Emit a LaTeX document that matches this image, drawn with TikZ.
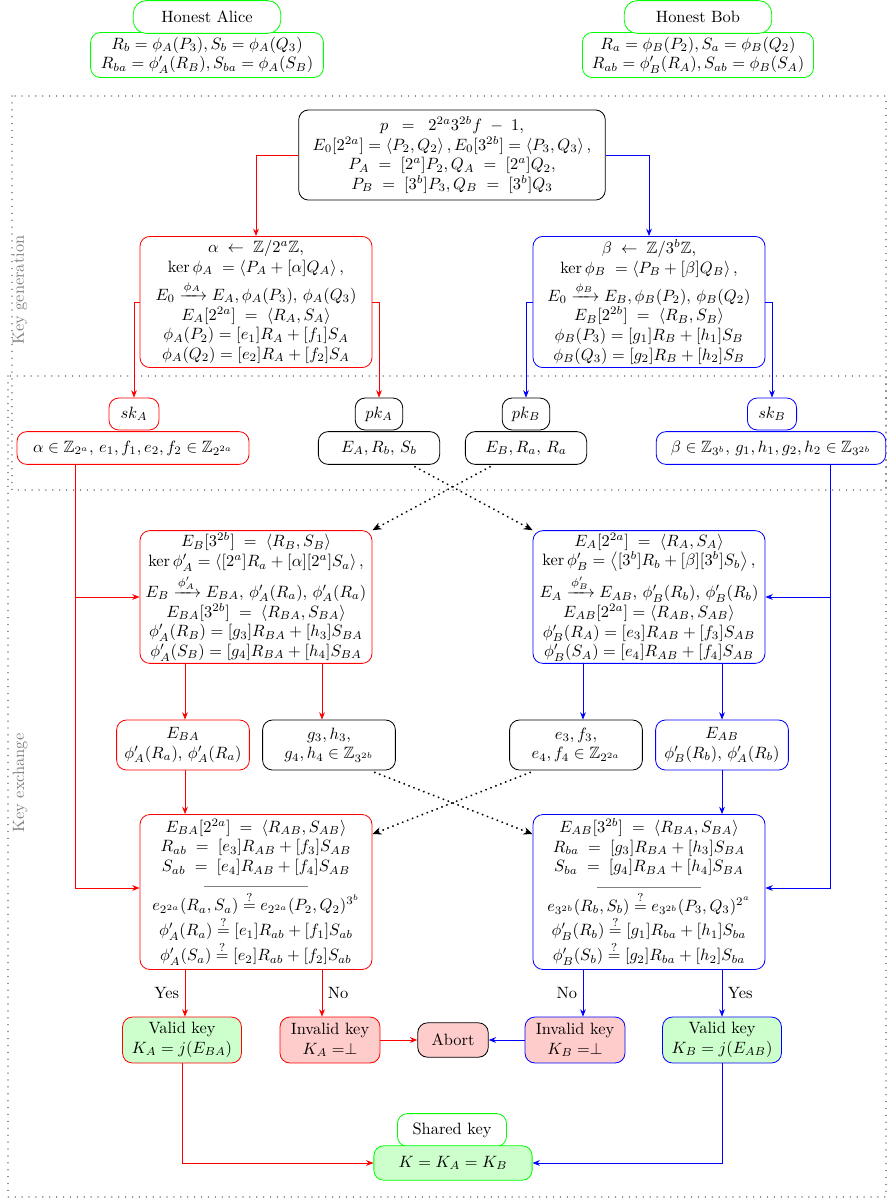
\documentclass[tikz,border=0pt]{standalone}
\usepackage{amsmath,amssymb}
\usetikzlibrary{arrows.meta,calc}
\begin{document}
\begin{tikzpicture}[x=0.61pt,y=-0.61pt,
  box/.style={draw, rounded corners=6pt, align=center, inner sep=1pt, line width=0.5pt, fill=white},
  rbox/.style={box, draw=red},
  bbox/.style={box, draw=blue},
  gbox/.style={box, draw=green},
  arr/.style={-{Stealth[length=4.5pt,width=3.5pt]}, line width=0.5pt},
  rarr/.style={arr, red},
  barr/.style={arr, blue},
  dotarr/.style={-{Stealth[length=5.5pt,width=4.5pt]}, line width=1.3pt, dash pattern=on 0.01pt off 3.2pt, line cap=round, black},
  frame/.style={gray, line width=0.9pt, dash pattern=on 0.01pt off 4.2pt, line cap=round},
  lbl/.style={gray, rotate=90}
]
\useasboundingbox (0,0) rectangle (888,1199);

% frames
\draw[frame] (12,96) rectangle (886,490);
\draw[frame] (8,376) rectangle (886,1197);
\node[lbl] (kg) at (20,290) {Key generation};
\node[lbl] (ke) at (20,783) {Key exchange};

% honest parties
\node[gbox, minimum width=142pt, minimum height=27.5pt] (af) at (207,55) {$R_b = \phi_A(P_3), S_b = \phi_A(Q_3)$\\ $R_{ba} = \phi'_A(R_B), S_{ba} = \phi_A(S_B)$};
\node[gbox, rounded corners=8pt, minimum width=90pt, minimum height=20pt] (ha) at (207,17) {Honest Alice};
\node[gbox, minimum width=141pt, minimum height=27.5pt] (bf) at (698,55) {$R_a = \phi_B(P_2), S_a = \phi_B(Q_2)$\\ $R_{ab} = \phi'_B(R_A), S_{ab} = \phi_B(S_A)$};
\node[gbox, rounded corners=8pt, minimum width=90pt, minimum height=20pt] (hb) at (698,17) {Honest Bob};

% top parameters
\node[box, minimum width=187pt, minimum height=55pt] (top) at (452,155) {$p \;\;=\;\; 2^{2a}3^{2b}f \;-\; 1,$\\
$E_0[2^{2a}] = \left\langle P_2, Q_2 \right\rangle, E_0[3^{2b}] = \left\langle P_3,Q_3\right\rangle,$\\
$P_A \;=\; [2^a]P_2, Q_A \;=\; [2^a]Q_2,$\\
$P_B \;=\; [3^b]P_3, Q_B \;=\; [3^b]Q_3$};

% key generation
\node[rbox, minimum width=141.5pt, minimum height=80pt] (alpha) at (256,302) {$\alpha \;\leftarrow\; \mathbb{Z}/2^a\mathbb{Z},$\\
$\ker\phi_A \;=\left\langle P_A+[\alpha]Q_A\right\rangle,$\\[1.5pt]
$E_0 \xrightarrow{\phi_A} E_A, \phi_A(P_3),\, \phi_A(Q_3)$\\
$E_A[2^{2a}] \;=\; \langle R_A, S_A\rangle$\\
$\phi_A(P_2) = [e_1]R_A + [f_1]S_A$\\
$\phi_A(Q_2) = [e_2]R_A + [f_2]S_A$};
\node[bbox, minimum width=141.5pt, minimum height=80pt] (beta) at (649,302) {$\beta \;\leftarrow\; \mathbb{Z}/3^b\mathbb{Z},$\\
$\ker\phi_B \;=\left\langle P_B+[\beta]Q_B\right\rangle,$\\[1.5pt]
$E_0 \xrightarrow{\phi_B} E_B, \phi_B(P_2),\, \phi_B(Q_2)$\\
$E_B[2^{2b}] \;=\; \langle R_B, S_B\rangle$\\
$\phi_B(P_3) = [g_1]R_B + [h_1]S_B$\\
$\phi_B(Q_3) = [g_2]R_B + [h_2]S_B$};

\node[rbox, minimum width=141.5pt, minimum height=20pt] (ain) at (133,448) {$\alpha \in \mathbb{Z}_{2^a},\, e_1, f_1, e_2, f_2 \in \mathbb{Z}_{2^{2a}}$};
\node[rbox, minimum width=30.5pt, minimum height=19.5pt] (ska) at (134,414) {$sk_A$};
\node[box, minimum width=74pt, minimum height=20pt] (pkav) at (379,448) {$E_A, R_b,\, S_b$};
\node[box, minimum width=29pt, minimum height=19.5pt] (pka) at (379,414) {$pk_A$};
\node[box, minimum width=74pt, minimum height=20pt] (pkbv) at (526,448) {$E_B, R_a,\, R_a$};
\node[box, minimum width=29pt, minimum height=19.5pt] (pkb) at (526,414) {$pk_B$};
\node[bbox, minimum width=140pt, minimum height=20pt] (bin) at (771,448) {$\beta \in \mathbb{Z}_{3^b},\, g_1,h_1,g_2,h_2 \in \mathbb{Z}_{3^{2b}}$};
\node[bbox, minimum width=30pt, minimum height=19.5pt] (skb) at (772,414) {$sk_B$};

% key exchange
\node[rbox, minimum width=141.5pt, minimum height=81pt] (a2) at (256,597) {$E_B[3^{2b}] \;=\; \langle R_B, S_B\rangle$\\
$\ker\phi'_A = \left\langle [2^a]R_a + [\alpha][2^a]S_a\right\rangle,$\\[1.5pt]
$E_B \xrightarrow{\phi'_A} E_{BA},\, \phi'_A(R_a),\, \phi'_A(R_a)$\\
$E_{BA}[3^{2b}] \;=\; \langle R_{BA}, S_{BA}\rangle$\\
$\phi'_A(R_B) = [g_3]R_{BA} + [h_3]S_{BA}$\\
$\phi'_A(S_B) = [g_4]R_{BA} + [h_4]S_{BA}$};
\node[bbox, minimum width=141.5pt, minimum height=81pt] (b2) at (649,597) {$E_A[2^{2a}] \;=\; \langle R_A, S_A\rangle$\\
$\ker\phi'_B = \left\langle [3^b]R_b + [\beta][3^b]S_b\right\rangle,$\\[1.5pt]
$E_A \xrightarrow{\phi'_B} E_{AB},\, \phi'_B(R_b),\, \phi'_B(R_b)$\\
$E_{AB}[2^{2a}] = \langle R_{AB}, S_{AB}\rangle$\\
$\phi'_B(R_A) = [e_3]R_{AB} + [f_3]S_{AB}$\\
$\phi'_B(S_A) = [e_4]R_{AB}+[f_4]S_{AB}$};

\node[rbox, minimum width=81pt, minimum height=30.5pt] (eba) at (183,745) {$E_{BA}$\\ $\phi'_A(R_a),\, \phi'_A(R_a)$};
\node[box, minimum width=81pt, minimum height=30.5pt] (g3) at (329,745) {$g_3, h_3,$\\ $g_4, h_4 \in \mathbb{Z}_{3^{2b}}$};
\node[box, minimum width=81pt, minimum height=30.5pt] (e3) at (576,745) {$e_3, f_3,$\\ $e_4, f_4 \in \mathbb{Z}_{2^{2a}}$};
\node[bbox, minimum width=81pt, minimum height=30.5pt] (eab) at (722,745) {$E_{AB}$\\ $\phi'_B(R_b),\, \phi'_A(R_b)$};

\node[rbox, minimum width=141.5pt, minimum height=94.5pt] (a3) at (256,892) {$E_{BA}[2^{2a}] \;=\; \langle R_{AB}, S_{AB}\rangle$\\
$R_{ab} \;=\; [e_3]R_{AB} + [f_3]S_{AB}$\\
$S_{ab} \;=\; [e_4]R_{AB} + [f_4]S_{AB}$\\
\textcolor{gray}{\rule[0.6ex]{63pt}{0.4pt}}\\
$e_{2^{2a}}(R_a, S_a) \stackrel{?}{=} e_{2^{2a}}(P_2,Q_2)^{3^b}$\\
$\phi'_A(R_a) \stackrel{?}{=} [e_1]R_{ab} + [f_1]S_{ab}$\\
$\phi'_A(S_a) \stackrel{?}{=} [e_2]R_{ab}+[f_2]S_{ab}$};
\node[bbox, minimum width=141.5pt, minimum height=94.5pt] (b3) at (649,892) {$E_{AB}[3^{2b}] \;=\; \langle R_{BA}, S_{BA}\rangle$\\
$R_{ba} \;=\; [g_3]R_{BA}+[h_3]S_{BA}$\\
$S_{ba} \;=\; [g_4]R_{BA} + [h_4]S_{BA}$\\
\textcolor{gray}{\rule[0.6ex]{63pt}{0.4pt}}\\
$e_{3^{2b}}(R_b,S_b) \stackrel{?}{=} e_{3^{2b}}(P_3,Q_3)^{2^a}$\\
$\phi'_B(R_b) \stackrel{?}{=} [g_1]R_{ba}+[h_1]S_{ba}$\\
$\phi'_B(S_b) \stackrel{?}{=} [g_2]R_{ba}+[h_2]S_{ba}$};

\node[box, draw=red, fill=green!20, minimum width=72.5pt, minimum height=28pt] (va) at (182,1040) {Valid key\\ $K_A = j(E_{BA})$};
\node[box, draw=red, fill=red!20, minimum width=61pt, minimum height=28pt] (ia) at (330,1040) {Invalid key\\ $K_A = \perp$};
\node[box, fill=red!20, minimum width=43pt, minimum height=21pt] (abort) at (453,1040) {Abort};
\node[box, draw=blue, fill=red!20, minimum width=61pt, minimum height=28pt] (ib) at (575,1040) {Invalid key\\ $K_B = \perp$};
\node[box, draw=blue, fill=green!20, minimum width=72.5pt, minimum height=28pt] (vb) at (722,1040) {Valid key\\ $K_B = j(E_{AB})$};

\node[gbox, minimum width=66.5pt, minimum height=20pt] (sk) at (452,1130) {Shared key};
\node[gbox, fill=green!20, minimum width=96.5pt, minimum height=21pt] (K) at (453,1163) {$K = K_A = K_B$};

% connectors: key generation
\draw[rarr] (top.west) -| (alpha.north);
\draw[barr] (top.east) -| (beta.north);
\draw[rarr] (alpha.west) -| (ska.north);
\draw[rarr] (alpha.east) -| (pka.north);
\draw[barr] (beta.west) -| (pkb.north);
\draw[barr] (beta.east) -| (skb.north);

% public key exchange
\draw[dotarr] ($(pkav.south east)+(-25,2)$) -- (b2.north west);
\draw[dotarr] ($(pkbv.south west)+(25,2)$) -- (a2.north east);

% secret keys into exchange
\coordinate (ra) at ($(ain.south)+(-58,0)$);
\coordinate (rb) at ($(bin.south)+(59,0)$);
\draw[rarr] (ra) |- ($(a3.west)+(0,-4)$);
\draw[rarr] (ra |- a2.west) -- (a2.west);
\draw[barr] (rb) |- ($(b3.east)+(0,-4)$);
\draw[barr] (rb |- b2.east) -- (b2.east);

% second stage
\draw[rarr] ($(a2.south)+(-71,0)$) -- ($(eba.north)+(2,0)$);
\draw[rarr] ($(a2.south)+(66,0)$) -- ($(g3.north)+(-7,0)$);
\draw[barr] ($(b2.south)+(-66,0)$) -- ($(e3.north)+(7,0)$);
\draw[barr] ($(b2.south)+(73,0)$) -- (eab.north);
\draw[rarr] ($(eba.south)+(2,0)$) -- ($(a3.north)+(-71,0)$);
\draw[barr] (eab.south) -- ($(b3.north)+(73,0)$);
\draw[dotarr] ($(g3.south east)+(-21,2)$) -- ($(b3.north west)+(0,20)$);
\draw[dotarr] ($(e3.south west)+(21,2)$) -- ($(a3.north east)+(0,20)$);

% decisions
\draw[rarr] ($(a3.south)+(-71,0)$) -- node[left, black] {Yes} ($(va.north)+(3,0)$);
\draw[rarr] ($(a3.south)+(66,0)$) -- node[right, black] {No} ($(ia.north)+(-8,0)$);
\draw[barr] ($(b3.south)+(-66,0)$) -- node[left, black] {No} ($(ib.north)+(8,0)$);
\draw[barr] ($(b3.south)+(73,0)$) -- node[right, black] {Yes} (vb.north);
\draw[rarr] (ia.east) -- (abort.west);
\draw[barr] (ib.west) -- (abort.east);
\draw[rarr] (va.south) |- (K.west);
\draw[barr] (vb.south) |- (K.east);
\end{tikzpicture}
\end{document}
